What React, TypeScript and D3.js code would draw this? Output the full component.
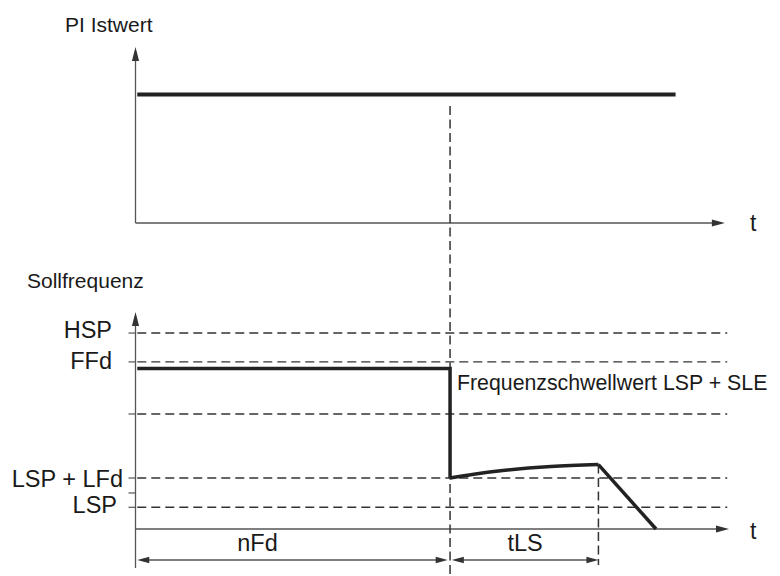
import React from "react";
import * as d3 from "d3";

// ---------- data (abstract units) ----------
const piTitle = "PI Istwert";
const freqTitle = "Sollfrequenz";
const timeLabel = "t";

// PI actual value (top chart): time -> value
const piTimes = [0.3, 91];
const piValues = [73, 73];

// reference levels for the lower chart
const levelNames = ["HSP", "FFd", "", "LSP + LFd", "LSP"];
const levelValues = [90.3, 77, 53, 23.5, 10];
const extraTickValues = [16.6];

// frequency reference (lower chart)
const stepTimes = [0.3, 53, 53];
const stepValues = [74, 74, 23.5];
const riseTimes = [53, 57, 61.5, 70, 78];
const riseValues = [23.5, 25.2, 26.8, 28.8, 29.7];
const rampTimes = [78, 87.7];
const rampValues = [29.7, 0];

const thresholdLabel = "Frequenzschwellwert LSP + SLE";
const switchTime = 53; // end of nFd
const tlsEnd = 78; // end of tLS
const spanNames = ["nFd", "tLS"];
const spanStarts = [0.3, 53.3];
const spanEnds = [52.6, 78];

export default function App() {
  const W = 780, H = 576;
  const x = d3.scaleLinear().domain([0, 100]).range([135.5, 729]);
  const yTop = d3.scaleLinear().domain([0, 100]).range([223, 47]);
  const yBot = d3.scaleLinear().domain([0, 100]).range([529, 312]);

  const line = d3.line<[number, number]>();
  const curve = d3.line<[number, number]>().curve(d3.curveMonotoneX);

  const zip = (a: number[], b: number[], ys: d3.ScaleLinear<number, number>) =>
    a.map((t, i) => [x(t), ys(b[i])] as [number, number]);

  const axisColor = "#555";
  const dashColor = "#333";
  const ink = "#1a1a1a";
  const font = "'Liberation Sans', Arial, Helvetica, sans-serif";

  const arrowHead = (tipX: number, tipY: number, dir: "up" | "right" | "left", len = 13, half = 3.5) => {
    let pts: [number, number][];
    if (dir === "up") pts = [[tipX, tipY], [tipX - half, tipY + len], [tipX + half, tipY + len]];
    else if (dir === "right") pts = [[tipX, tipY], [tipX - len, tipY - half], [tipX - len, tipY + half]];
    else pts = [[tipX, tipY], [tipX + len, tipY - half], [tipX + len, tipY + half]];
    return <path d={line(pts)! + "Z"} fill="#333" />;
  };

  const dashX0 = x(0.3);
  const dashX1 = x(99.7);
  const spanY = 560;

  return (
    <svg width={W} height={H} style={{ position: "absolute", left: 0, top: 0, background: "#fff" }} fontFamily={font}>
      {/* ---------- top chart ---------- */}
      <text x={65} y={32} fontSize={21} fill={ink}>{piTitle}</text>
      <line x1={x(0)} y1={yTop(0)} x2={x(0)} y2={yTop(100) + 4} stroke={axisColor} strokeWidth={1.3} />
      {arrowHead(x(0), yTop(100), "up", 14, 3.6)}
      <line x1={x(0)} y1={yTop(0)} x2={x(99.3) - 4} y2={yTop(0)} stroke={axisColor} strokeWidth={1.3} />
      {arrowHead(x(99.3), yTop(0), "right", 13, 3.6)}
      <text x={750} y={231} fontSize={23} fill={ink}>{timeLabel}</text>
      <path d={line(zip(piTimes, piValues, yTop))!} stroke="#222" strokeWidth={3.8} fill="none" />

      {/* ---------- bottom chart ---------- */}
      <text x={27} y={288} fontSize={21} fill={ink}>{freqTitle}</text>

      {/* dashed reference levels */}
      {levelValues.map((v, i) => (
        <g key={"lvl" + i}>
          <line x1={dashX0} x2={dashX1} y1={yBot(v)} y2={yBot(v)} stroke={dashColor} strokeWidth={1.4} strokeDasharray="9,5" />
          <line x1={x(0) - 7} x2={x(0)} y1={yBot(v)} y2={yBot(v)} stroke={axisColor} strokeWidth={1.2} />
        </g>
      ))}
      {extraTickValues.map((v, i) => (
        <line key={"xt" + i} x1={x(0) - 7} x2={x(0)} y1={yBot(v)} y2={yBot(v)} stroke={axisColor} strokeWidth={1.2} />
      ))}
      {/* level labels */}
      {levelNames.map((n, i) => {
        if (!n) return null;
        const pos: Record<string, [number, number]> = {
          "HSP": [112, 338],
          "FFd": [112, 368.5],
          "LSP + LFd": [123, 487],
          "LSP": [117, 513],
        };
        const [tx, ty] = pos[n];
        return (
          <text key={"ln" + i} x={tx} y={ty} fontSize={23.5} textAnchor="end" fill={ink}>{n}</text>
        );
      })}

      {/* axes */}
      <line x1={x(0)} y1={568} x2={x(0)} y2={yBot(100) + 4} stroke={axisColor} strokeWidth={1.3} />
      {arrowHead(x(0), yBot(100), "up", 14, 3.6)}
      <line x1={x(0)} y1={yBot(0)} x2={x(100) - 4} y2={yBot(0)} stroke={axisColor} strokeWidth={1.3} />
      {arrowHead(x(100), yBot(0), "right", 13, 3.6)}
      <text x={750} y={539} fontSize={23} fill={ink}>{timeLabel}</text>

      {/* vertical dashed markers */}
      <line x1={x(switchTime)} x2={x(switchTime)} y1={106} y2={576} stroke={dashColor} strokeWidth={1.5} strokeDasharray="9,4.5" />
      <line x1={x(tlsEnd)} x2={x(tlsEnd)} y1={yBot(29.7)} y2={565} stroke={dashColor} strokeWidth={1.5} strokeDasharray="9,4.5" />

      {/* frequency reference curve */}
      <path d={line(zip(stepTimes, stepValues, yBot))!} stroke="#222" strokeWidth={3.5} fill="none" strokeLinejoin="miter" />
      <path d={curve(zip(riseTimes, riseValues, yBot))!} stroke="#222" strokeWidth={3.5} fill="none" />
      <path d={line(zip(rampTimes, rampValues, yBot))!} stroke="#222" strokeWidth={3.5} fill="none" strokeLinejoin="round" />

      <text x={457} y={390} fontSize={21.3} fill={ink}>{thresholdLabel}</text>

      {/* time spans */}
      {spanNames.map((n, i) => {
        const a = x(spanStarts[i]);
        const b = x(spanEnds[i]);
        return (
          <g key={"sp" + i}>
            <line x1={a + 6} x2={b - 6} y1={spanY} y2={spanY} stroke={axisColor} strokeWidth={1.3} />
            {arrowHead(a, spanY, "left", 12, 3.2)}
            {arrowHead(b, spanY, "right", 12, 3.2)}
            <text x={(a + b) / 2 + (i === 0 ? -35 : 0)} y={551} fontSize={23.5} textAnchor="middle" fill={ink}>{n}</text>
          </g>
        );
      })}
    </svg>
  );
}
